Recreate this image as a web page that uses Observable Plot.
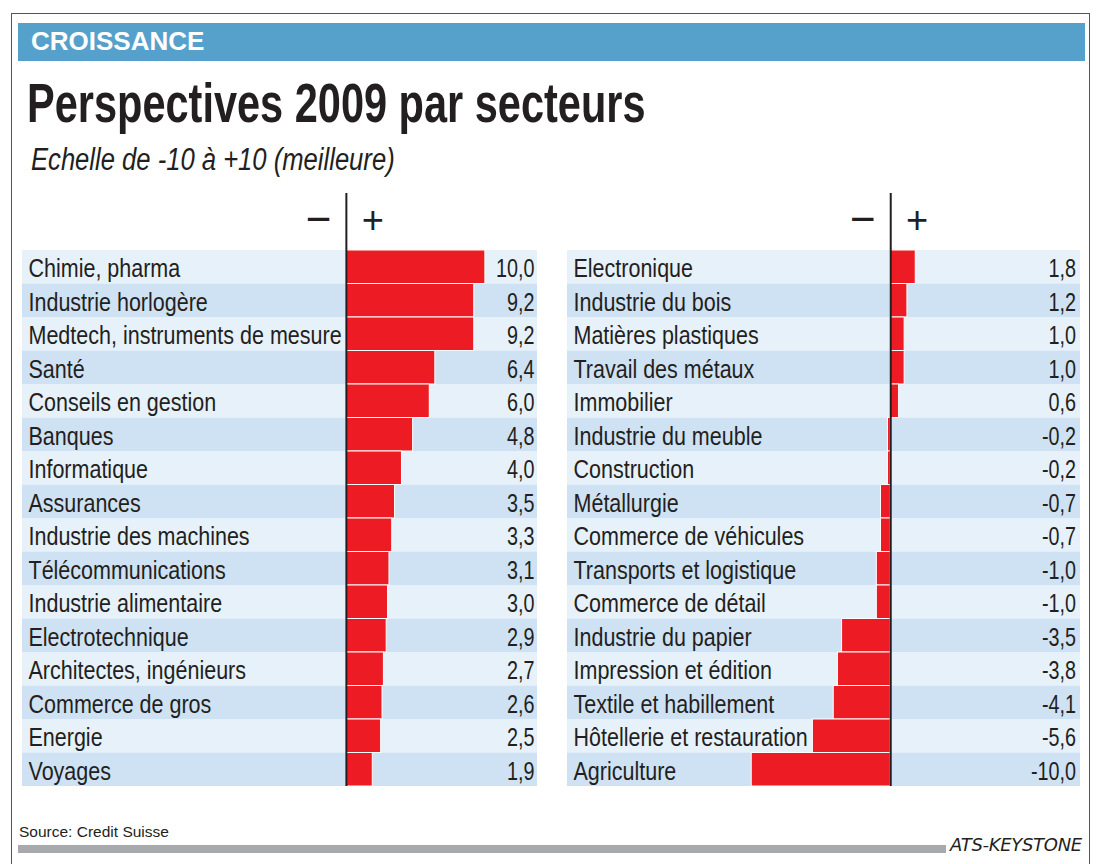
<!DOCTYPE html>
<html><head><meta charset="utf-8">
<script src="https://cdn.jsdelivr.net/npm/d3@7"></script>
<script src="https://cdn.jsdelivr.net/npm/@observablehq/plot@0.6"></script>
<style>
body{margin:0;background:#fff;}
#wrap{position:relative;width:1102px;height:864px;overflow:hidden;background:#fff;font-family:"Liberation Sans",Arial,sans-serif;}
.abs{position:absolute;white-space:nowrap;}
#frame{left:11px;top:13px;width:1079px;height:900px;border:1.5px solid #555;box-sizing:border-box;}
#band{left:18px;top:23px;width:1067px;height:38px;background:#55a1cb;}
#kicker{left:31px;top:25px;font-weight:bold;font-size:26px;color:#fff;line-height:32px;}
#title{left:27px;top:73px;font-weight:bold;font-size:55.5px;color:#231f20;line-height:60px;transform:scaleX(0.748);transform-origin:0 0;}
#sub{left:31px;top:142px;font-style:italic;font-size:31px;color:#231f20;line-height:36px;transform:scaleX(0.826);transform-origin:0 0;}
#source{left:19px;top:823px;font-size:15.5px;color:#231f20;}
#grey{left:18px;top:845px;width:928px;height:8px;background:#a7a9ac;}
#ats{left:950px;top:834px;font-family:"DejaVu Sans",sans-serif;font-style:italic;font-size:18px;color:#231f20;letter-spacing:-0.3px;}
.plotbox svg{display:block;}
</style></head>
<body><div id="wrap">
<div id="frame" class="abs"></div>
<div id="band" class="abs"></div>
<div id="kicker" class="abs">CROISSANCE</div>
<div id="title" class="abs">Perspectives 2009 par secteurs</div>
<div id="sub" class="abs">Echelle de -10 à +10 (meilleure)</div>
<div id="left" class="abs plotbox" style="left:22px;top:190px;"></div>
<div id="right" class="abs plotbox" style="left:567px;top:190px;"></div>
<div id="source" class="abs">Source: Credit Suisse</div>
<div id="grey" class="abs"></div>
<div id="ats" class="abs">ATS-KEYSTONE</div>
</div>
<script>
const leftNames = ["Chimie, pharma","Industrie horlogère","Medtech, instruments de mesure","Santé","Conseils en gestion","Banques","Informatique","Assurances","Industrie des machines","Télécommunications","Industrie alimentaire","Electrotechnique","Architectes, ingénieurs","Commerce de gros","Energie","Voyages"];
const leftValues = [10.0,9.2,9.2,6.4,6.0,4.8,4.0,3.5,3.3,3.1,3.0,2.9,2.7,2.6,2.5,1.9];
const rightNames = ["Electronique","Industrie du bois","Matières plastiques","Travail des métaux","Immobilier","Industrie du meuble","Construction","Métallurgie","Commerce de véhicules","Transports et logistique","Commerce de détail","Industrie du papier","Impression et édition","Textile et habillement","Hôtellerie et restauration","Agriculture"];
const rightValues = [1.8,1.2,1.0,1.0,0.6,-0.2,-0.2,-0.7,-0.7,-1.0,-1.0,-3.5,-3.8,-4.1,-5.6,-10.0];

const RED = "#ed1c24", LIGHT = "#e6f1fa", DARK = "#cfe2f3", INK = "#231f20";
const FONT = "'Liberation Sans',Arial,sans-serif";
const fmt = v => v.toFixed(1).replace(".", ",");

function panel(names, values, width, domain, valueDx) {
  const data = names.map((n, i) => ({name: n, value: values[i], i}));
  return Plot.plot({
    width, height: 600,
    marginTop: 60, marginBottom: 4, marginLeft: 0, marginRight: 0,
    style: {fontFamily: FONT, background: "transparent", overflow: "visible"},
    x: {domain, axis: null},
    y: {domain: names, axis: null, padding: 0, round: false},
    marks: [
      Plot.barX(data, {x1: domain[0], x2: domain[1], y: "name", fill: d => d.i % 2 ? DARK : LIGHT}),
      Plot.barX(data, {x: "value", y: "name", fill: RED, stroke: "#fff", strokeWidth: 1}),
      Plot.ruleX([0], {stroke: INK, strokeWidth: 2, insetTop: -57}),
      Plot.text(["−"], {x: -2, frameAnchor: "top", lineAnchor: "middle", dy: -30.5, fontSize: 44, fill: INK}),
      Plot.text(["+"], {x: 1.9, frameAnchor: "top", lineAnchor: "middle", dy: -30, fontSize: 38, fill: INK}),
      Plot.text(data, {x: domain[0], y: "name", text: "name", textAnchor: "start", dx: 6, dy: 2, fontSize: 25, fill: INK, className: "condLbl"}),
      Plot.text(data, {x: domain[1], y: "name", text: d => fmt(d.value), textAnchor: "end", dx: valueDx, dy: 2, fontSize: 25, fill: INK, className: "condVal"})
    ]
  });
}
document.getElementById("left").append(panel(leftNames, leftValues, 515, [-23.3, 13.75], -3));
document.getElementById("right").append(panel(rightNames, rightValues, 513, [-23.25, 13.65], -4.5));
// emulate a condensed face: squeeze glyphs horizontally
function squeeze(sel, k) {
  document.querySelectorAll(sel).forEach(t => {
    const w = t.getComputedTextLength();
    t.setAttribute("textLength", (w * k).toFixed(1));
    t.setAttribute("lengthAdjust", "spacingAndGlyphs");
  });
}
squeeze(".condLbl text", 0.86);
squeeze(".condVal text", 0.79);
</script>
</body></html>
